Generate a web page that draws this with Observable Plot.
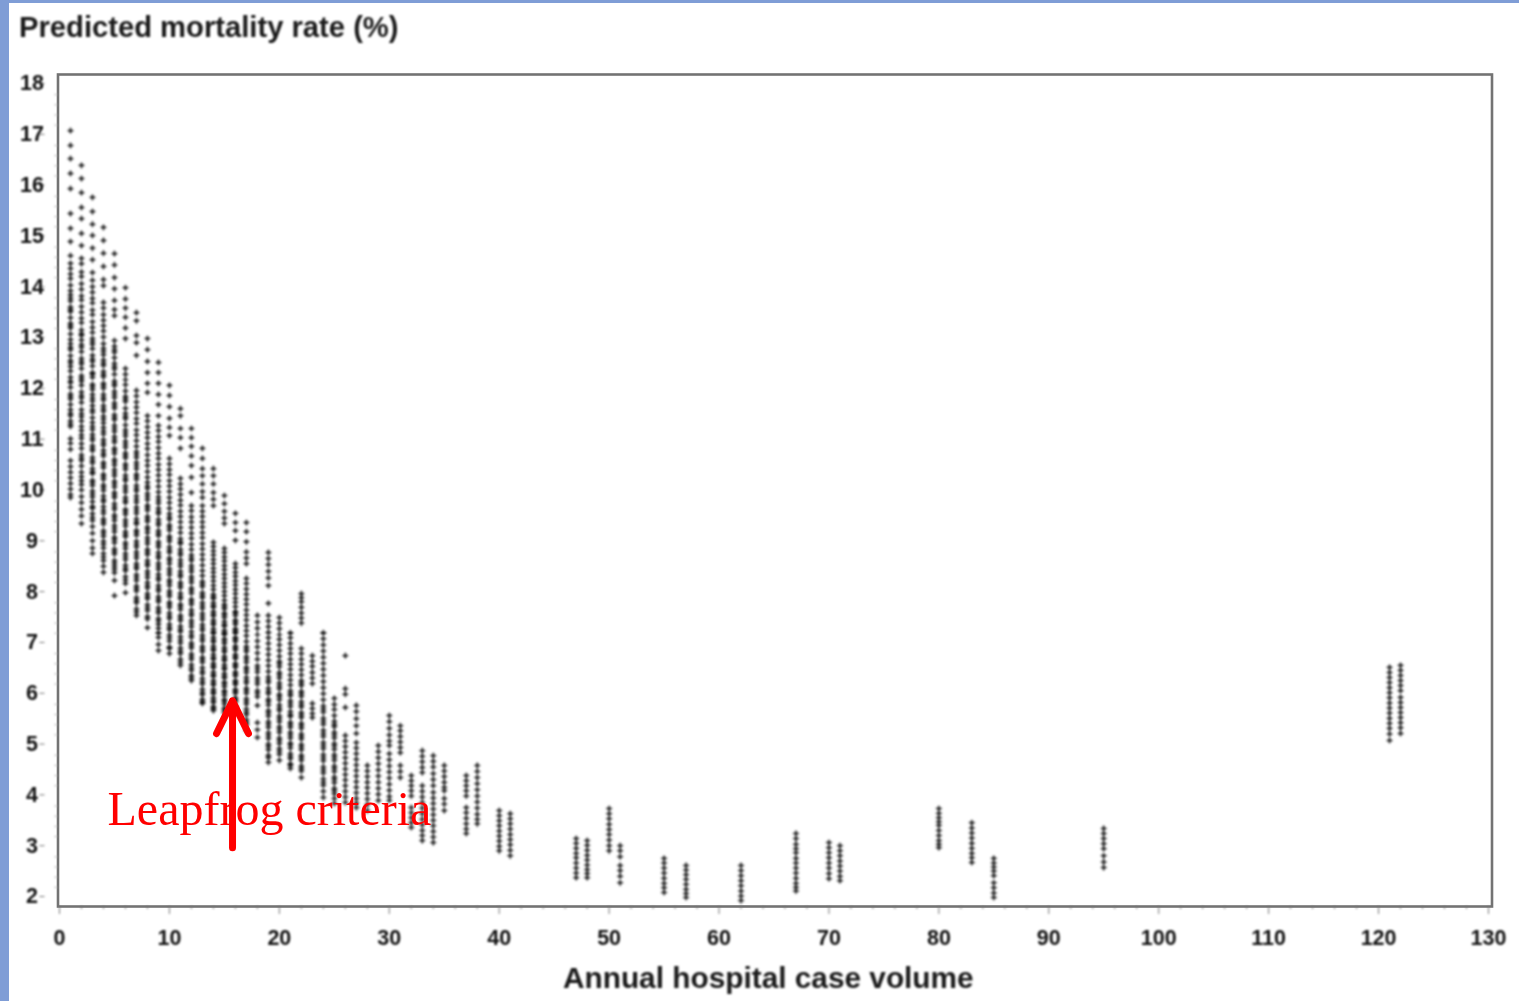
<!DOCTYPE html>
<html><head><meta charset="utf-8">
<script src="https://cdn.jsdelivr.net/npm/d3@7"></script>
<script src="https://cdn.jsdelivr.net/npm/@observablehq/plot@0.6"></script>
<style>
html,body{margin:0;padding:0;background:#fff;width:1519px;height:1001px;overflow:hidden}
#wrap{position:relative;width:1519px;height:1001px}
#wrap svg{position:absolute;left:0;top:0;background:transparent}
.band{position:absolute;background:#7f9dd6}
.lab{position:absolute;font:bold 29.2px "Liberation Sans",Arial,sans-serif;color:#1a1a1a;filter:blur(.8px);white-space:nowrap;line-height:1}
</style></head><body><div id="wrap">
<div class="band" style="left:0;top:0;width:1519px;height:3px"></div>
<div class="band" style="left:0;top:0;width:9px;height:1001px"></div>
<div class="lab" style="left:19px;top:13px" id="ttl"></div>
<div class="lab" style="left:563px;top:963px;font-size:29.8px" id="xlab"></div>
</div>
<script>
const titleText="Predicted mortality rate (%)";
const xLabelText="Annual hospital case volume";
const noteText="Leapfrog criteria";
const xMajor=[0,10,20,30,40,50,60,70,80,90,100,110,120,130];
const yMajor=[2,3,4,5,6,7,8,9,10,11,12,13,14,15,16,17,18];
const volumes=[1,2,3,4,5,6,7,8,9,10,11,12,13,14,15,16,17,18,19,20,21,22,23,24,25,26,27,28,29,30,31,32,33,34,35,37,38,40,41,47,48,50,51,55,57,62,67,70,71,80,83,85,95,121,122];
const v1=[17.09,16.8,16.54,16.25,15.95,15.46,15.17,14.91,14.63,14.48,14.38,14.27,14.18,14.05,13.94,13.86,13.74,13.62,13.53,13.41,13.3,13.21,13.09,12.98,12.9,12.78,12.66,12.57,12.45,12.36,12.24,12.13,12.04,11.91,11.81,11.7,11.6,11.48,11.38,11.27,11.03,10.94,10.82,10.6,10.48,10.37,10.26,10.15,10.04,9.93,9.87];
const v2=[16.41,16.15,15.87,15.58,15.36,15.07,14.83,14.58,14.47,14.31,14.22,14.08,13.97,13.84,13.76,13.63,13.52,13.4,13.31,13.17,13.06,12.97,12.83,12.74,12.61,12.5,12.41,12.27,12.16,12.08,11.95,11.83,11.74,11.6,11.52,11.38,11.27,11.19,11.04,10.93,10.84,10.71,10.6,10.49,10.37,10.28,10.13,10.02,9.89,9.77,9.64,9.51,9.36];
const v3=[15.78,15.5,15.25,15.03,14.78,14.55,14.3,14.15,14.02,13.91,13.79,13.7,13.56,13.47,13.33,13.22,13.12,13.0,12.89,12.8,12.67,12.55,12.46,12.33,12.24,12.1,12.0,11.9,11.77,11.68,11.55,11.44,11.35,11.21,11.11,11.0,10.89,10.79,10.66,10.55,10.44,10.34,10.21,10.11,10.0,9.88,9.79,9.66,9.55,9.42,9.3,9.17,9.02,8.88,8.77];
const v4=[15.19,14.93,14.68,14.42,14.16,14.04,13.71,13.6,13.47,13.36,13.25,13.15,13.03,12.9,12.81,12.68,12.58,12.47,12.35,12.25,12.12,12.02,11.9,11.79,11.68,11.57,11.47,11.34,11.25,11.12,11.01,10.9,10.8,10.69,10.56,10.46,10.33,10.23,10.12,10.01,9.9,9.79,9.69,9.56,9.45,9.35,9.22,9.11,9.01,8.88,8.77,8.63,8.52,8.4];
const v5=[14.67,14.45,14.2,13.98,13.75,13.57,13.45,12.96,12.85,12.73,12.62,12.51,12.4,12.3,12.17,12.07,11.96,11.84,11.73,11.63,11.5,11.4,11.29,11.17,11.07,10.96,10.84,10.74,10.62,10.51,10.42,10.3,10.19,10.08,9.97,9.87,9.75,9.64,9.53,9.42,9.32,9.2,9.09,8.98,8.86,8.76,8.63,8.52,8.39,8.24,7.94];
const v6=[14.0,13.78,13.6,13.42,13.21,13.0,12.41,12.3,12.19,12.09,11.97,11.86,11.76,11.63,11.53,11.42,11.3,11.2,11.08,10.98,10.86,10.75,10.65,10.53,10.43,10.31,10.2,10.1,9.98,9.87,9.77,9.64,9.54,9.43,9.31,9.2,9.1,8.98,8.87,8.77,8.65,8.54,8.43,8.31,8.18,8.0];
const v7=[13.51,13.35,13.06,12.92,12.67,11.98,11.87,11.75,11.65,11.54,11.42,11.33,11.2,11.1,10.99,10.88,10.77,10.66,10.56,10.44,10.33,10.23,10.11,10.0,9.9,9.78,9.68,9.56,9.45,9.35,9.23,9.13,9.01,8.9,8.8,8.68,8.57,8.47,8.35,8.24,8.13,8.03,7.9,7.8,7.68,7.55];
const v8=[13.0,12.78,12.55,12.33,12.12,11.94,11.48,11.38,11.26,11.15,11.05,10.93,10.83,10.71,10.6,10.5,10.38,10.27,10.17,10.05,9.95,9.83,9.72,9.62,9.5,9.4,9.29,9.18,9.08,8.96,8.85,8.75,8.63,8.53,8.42,8.3,8.2,8.09,7.98,7.88,7.76,7.65,7.53,7.31];
const v9=[12.53,12.33,12.12,11.9,11.7,11.48,11.29,11.19,11.07,10.97,10.85,10.74,10.64,10.52,10.42,10.31,10.2,10.09,9.98,9.88,9.76,9.66,9.55,9.44,9.33,9.22,9.12,9.0,8.9,8.79,8.68,8.58,8.46,8.36,8.25,8.14,8.03,7.92,7.82,7.7,7.6,7.49,7.38,7.21,7.12,6.98,6.86];
const v10=[12.08,11.88,11.66,11.43,11.25,11.09,10.64,10.53,10.42,10.32,10.2,10.1,9.99,9.87,9.77,9.66,9.55,9.44,9.33,9.23,9.11,9.01,8.9,8.79,8.68,8.57,8.47,8.35,8.25,8.14,8.03,7.93,7.81,7.71,7.6,7.49,7.38,7.27,7.17,7.05,6.93,6.8];
const v11=[11.62,11.48,11.23,11.05,10.84,10.25,10.14,10.04,9.93,9.82,9.72,9.6,9.5,9.39,9.28,9.18,9.06,8.96,8.85,8.74,8.64,8.52,8.42,8.31,8.2,8.1,7.99,7.88,7.77,7.67,7.55,7.45,7.34,7.23,7.13,7.01,6.91,6.8,6.69,6.57];
const v12=[11.23,11.05,10.88,10.69,10.5,10.27,9.97,9.71,9.61,9.49,9.39,9.28,9.17,9.07,8.95,8.85,8.74,8.63,8.53,8.41,8.31,8.2,8.09,7.99,7.87,7.77,7.66,7.55,7.45,7.33,7.23,7.12,7.01,6.91,6.79,6.69,6.58,6.47,6.37,6.27];
const v13=[10.84,10.64,10.44,10.3,10.14,9.99,9.87,9.71,9.6,9.5,9.39,9.29,9.18,9.08,8.96,8.86,8.75,8.65,8.54,8.43,8.33,8.22,8.12,8,7.9,7.8,7.69,7.59,7.47,7.37,7.26,7.16,7.05,6.94,6.84,6.73,6.63,6.52,6.41,6.31,6.2,6.1,5.99,5.9,5.82];
const v14=[10.44,10.3,10.14,9.97,9.84,9.71,8.99,8.91,8.82,8.74,8.65,8.57,8.48,8.4,8.31,8.23,8.14,8.06,7.97,7.88,7.8,7.71,7.63,7.54,7.46,7.37,7.29,7.2,7.12,7.03,6.95,6.86,6.78,6.69,6.61,6.52,6.44,6.35,6.27,6.18,6.1,6.01,5.93,5.84,5.76,5.68];
const v15=[9.91,9.75,9.6,9.47,9.36,8.87,8.79,8.7,8.62,8.53,8.45,8.36,8.28,8.19,8.11,8.02,7.94,7.85,7.77,7.68,7.6,7.51,7.43,7.34,7.26,7.17,7.09,7,6.92,6.83,6.75,6.66,6.58,6.49,6.41,6.32,6.24,6.15,6.07,5.98,5.9,5.81,5.73,5.64];
const v16=[9.56,9.38,9.22,9.03,8.57,8.49,8.4,8.32,8.23,8.15,8.06,7.98,7.89,7.81,7.72,7.63,7.55,7.46,7.38,7.29,7.21,7.12,7.04,6.95,6.87,6.78,6.7,6.61,6.53,6.44,6.36,6.27,6.19,6.1,6.02,5.93,5.85,5.76,5.64];
const v17=[9.38,9.2,9.0,8.8,8.68,8.57,8.28,8.18,8.07,7.97,7.87,7.77,7.66,7.56,7.46,7.35,7.25,7.15,7.04,6.94,6.84,6.74,6.63,6.53,6.43,6.33,6.22,6.12,6.02,5.91,5.81,5.71,5.6,5.5,5.4,5.29];
const v18=[7.55,7.42,7.3,7.18,7.05,6.93,6.81,6.69,6.56,6.44,6.32,6.2,6.07,5.95,5.78,5.44,5.3,5.15];
const v19=[8.79,8.67,8.55,8.42,8.29,8.14,7.79,7.55,7.44,7.33,7.22,7.11,7,6.89,6.78,6.67,6.56,6.45,6.34,6.23,6.12,6.01,5.9,5.79,5.68,5.57,5.46,5.35,5.24,5.13,5.02,4.91,4.8,4.66];
const v20=[7.51,7.4,7.29,7.18,7.08,6.97,6.86,6.75,6.65,6.54,6.43,6.32,6.22,6.11,6,5.89,5.79,5.68,5.57,5.46,5.36,5.25,5.14,5.03,4.93,4.82,4.7];
const v21=[7.21,7.11,7,6.9,6.8,6.69,6.59,6.49,6.38,6.28,6.18,6.07,5.97,5.87,5.76,5.66,5.56,5.45,5.35,5.25,5.14,5.04,4.94,4.83,4.73,4.63,4.54];
const v22=[7.98,7.9,7.82,7.71,7.6,7.5,7.4,6.9,6.8,6.69,6.59,6.48,6.38,6.27,6.17,6.06,5.96,5.85,5.75,5.64,5.54,5.43,5.33,5.22,5.12,5.01,4.91,4.8,4.7,4.59,4.49,4.36];
const v23=[6.76,6.65,6.55,6.43,6.32,6.21,5.82,5.72,5.62,5.54];
const v24=[7.21,7.09,6.97,6.85,6.73,6.61,6.49,6.37,6.25,6.13,6.01,5.89,5.77,5.65,5.53,5.41,5.29,5.17,5.05,4.93,4.81,4.69,4.57,4.45,4.33,4.21,4.09,3.97];
const v25=[5.92,5.8,5.7,5.58,5.47,5.36,5.25,5.14,5.03,4.92,4.81,4.7,4.59,4.48,4.37,4.26,4.15,4.04,3.95,3.85];
const v26=[6.76,6.11,6,5.74,5.19,5.08,4.97,4.86,4.75,4.64,4.53,4.42,4.31,4.2,4.09,3.98,3.87];
const v27=[5.78,5.66,5.52,5.38,5.23,5.05,4.94,4.83,4.72,4.61,4.5,4.39,4.28,4.17,4.06,3.95,3.86,3.77];
const v28=[4.6,4.49,4.38,4.27,4.16,4.05,3.94,3.83,3.71];
const v29=[4.99,4.87,4.75,4.63,4.51,4.39,4.27,4.15,4.03,3.91];
const v30=[5.58,5.46,5.33,5.2,5.08,4.99,4.83,4.71,4.59,4.47,4.35,4.23,4.11,3.99,3.91];
const v31=[5.38,5.28,5.17,5.06,4.95,4.85,4.6,4.48,4.36];
const v32=[4.4,4.3,4.2,4.1,4,3.77,3.67,3.57,3.47,3.38];
const v33=[4.89,4.78,4.67,4.56,4.46,4.2,4.09,3.98,3.87,3.76,3.65,3.54,3.43,3.32,3.22,3.12];
const v34=[4.79,4.68,4.57,4.44,4.32,4.2,4.07,3.96,3.85,3.74,3.63,3.52,3.41,3.3,3.19,3.08];
const v35=[4.6,4.49,4.38,4.27,4.17,4.1,3.95,3.84,3.71];
const v37=[4.4,4.3,4.2,4.1,4,3.77,3.67,3.56,3.45,3.35,3.26];
const v38=[4.6,4.48,4.36,4.24,4.12,4,3.88,3.76,3.64,3.54,3.45];
const v40=[3.71,3.61,3.51,3.41,3.31,3.21,3.11,3.01,2.92];
const v41=[3.65,3.55,3.45,3.35,3.24,3.14,3.04,2.93,2.82];
const v47=[3.16,3.07,2.97,2.87,2.78,2.68,2.58,2.48,2.39];
const v48=[3.12,3.03,2.93,2.83,2.74,2.64,2.55,2.47,2.39];
const v50=[3.75,3.65,3.55,3.44,3.34,3.24,3.13,3.02,2.92];
const v51=[3.02,2.92,2.8,2.63,2.53,2.42,2.29];
const v55=[2.77,2.68,2.58,2.48,2.38,2.28,2.19,2.1];
const v57=[2.63,2.54,2.45,2.36,2.26,2.16,2.08,2.0];
const v62=[2.63,2.53,2.43,2.33,2.23,2.13,2.03,1.94];
const v67=[3.26,3.16,3.05,2.96,2.88,2.77,2.68,2.58,2.48,2.38,2.28,2.2,2.13];
const v70=[3.08,2.98,2.88,2.78,2.68,2.58,2.47,2.37];
const v71=[3.02,2.92,2.82,2.72,2.62,2.52,2.42,2.33];
const v80=[3.75,3.66,3.57,3.49,3.42,3.32,3.22,3.12,3.05,2.98];
const v83=[3.47,3.37,3.27,3.17,3.07,2.97,2.87,2.78,2.69];
const v85=[2.77,2.68,2.6,2.52,2.43,2.29,2.19,2.09,2];
const v95=[3.36,3.26,3.16,3.06,2.96,2.82,2.7,2.59];
const v121=[6.53,6.43,6.33,6.23,6.13,6.03,5.93,5.83,5.73,5.63,5.53,5.43,5.33,5.22,5.09];
const v122=[6.57,6.47,6.37,6.27,6.17,6.07,5.94,5.84,5.74,5.64,5.54,5.44,5.34,5.23];
const rates=[v1,v2,v3,v4,v5,v6,v7,v8,v9,v10,v11,v12,v13,v14,v15,v16,v17,v18,v19,v20,v21,v22,v23,v24,v25,v26,v27,v28,v29,v30,v31,v32,v33,v34,v35,v37,v38,v40,v41,v47,v48,v50,v51,v55,v57,v62,v67,v70,v71,v80,v83,v85,v95,v121,v122];
// further hospitals in the darkest part of the cloud, where marks overlap
const denseVolumes=[1,2,3,4,5,6,7,8,9,10,11,12,13,14,15,16,17,18,19,20,21,22,24,25];
const e1=[13.8,13.57,13.25,12.83,12.52,12.18,11.86,11.53,11.32];
const e2=[13.1,12.88,12.55,12.22,11.88,11.46,11.1,10.65,10.2];
const e3=[12.94,12.6,12.3,12.05,11.83,11.6,11.27,11.05,10.84,10.6,10.38,10.16,9.94,9.7,9.48];
const e4=[12.75,12.52,12.3,12.07,11.84,11.62,11.41,11.18,10.95,10.74,10.51,10.28,10.07,9.84,9.62,9.4,9.17,8.95,8.7];
const e5=[12.78,12.45,12.12,11.9,11.68,11.45,11.23,11.01,10.79,10.57,10.36,10.14,9.92,9.69,9.48,9.26,9.04,8.81,8.58,8.46];
const e6=[11.81,11.47,11.14,10.92,10.7,10.48,10.25,10.04,9.82,9.59,9.37,9.15,8.93,8.71,8.48,8.25];
const e7=[10.72,10.5,10.28,10.05,9.84,9.62,9.39,9.18,8.95,8.74,8.52,8.3,8.08,7.85,7.62];
const e8=[10.1,9.89,9.67,9.45,9.24,9.02,8.8,8.58,8.36,8.14,7.93,7.7,7.48];
const e9=[9.82,9.6,9.38,9.17,8.95,8.73,8.52,8.3,8.08,7.87,7.65,7.44,7.3];
const e10=[9.49,9.28,9.06,8.84,8.63,8.41,8.2,7.98,7.76,7.54,7.32,7.11,6.9];
const e11=[9,8.79,8.58,8.36,8.15,7.93,7.72,7.5,7.28,7.07,6.85,6.63];
const e12=[8.68,8.47,8.26,8.04,7.82,7.6,7.39,7.17,6.96,6.74,6.52,6.32];
const e13=[8.17,7.95,7.74,7.53,7.31,7.1,6.89,6.68,6.46,6.25,6.04,5.85];
const e14=[7.92,7.75,7.58,7.41,7.24,7.07,6.9,6.73,6.56,6.39,6.22,6.05,5.88,5.72];
const e15=[7.72,7.56,7.38,7.21,7.05,6.87,6.7,6.53,6.36,6.2,6.03,5.86,5.69];
const e16=[7.6,7.42,7.25,7.08,6.91,6.74,6.57,6.4,6.23,6.06,5.89,5.72];
const e17=[6.89,6.69,6.48,6.27,6.07,5.86,5.65,5.45];
const e18=[6.5,6.26,6.02];
const e19=[6.28,6.06,5.85,5.63,5.41,5.19,4.97,4.75];
const e20=[6.6,6.38,6.16,5.95,5.73,5.52,5.31,5.09,4.88];
const e21=[6.02,5.82,5.6,5.4,5.2,5,4.78,4.6];
const e22=[6.22,6.01,5.8,5.59,5.38,5.17,4.96,4.75,4.54];
const e24=[5.71,5.47,5.23,4.99,4.75,4.51,4.27];
const e25=[5.41,5.2,4.98,4.76,4.54,4.32,4.1];
const denseRates=[e1,e2,e3,e4,e5,e6,e7,e8,e9,e10,e11,e12,e13,e14,e15,e16,e17,e18,e19,e20,e21,e22,e24,e25];
const points=volumes.flatMap((x,i)=>rates[i].map(y=>({x,y}))).concat(denseVolumes.flatMap((x,i)=>denseRates[i].map(y=>({x,y}))));
const xMinor=d3.range(0,131,2).filter(d=>d%10);
const yMinor=d3.range(2,18.01,0.2).filter(d=>Math.abs(d-Math.round(d))>0.01);
const arrowData=[{x:15.74,y1:2.98,y2:5.87}];
const noteData=[{x:4.37,y:3.72,t:noteText}];
const soft="blur(0.8px)";
const tickCol="#777";
const sans="Liberation Sans";
const chart=Plot.plot({
  width:1519,height:1001,
  marginLeft:57.5,marginRight:27.5,marginTop:74,marginBottom:95,
  style:{background:"transparent",overflow:"visible"},
  x:{domain:[0,130],range:[59,1488]},
  y:{domain:[2,18],range:[897,84]},
  marks:[
    Plot.frame({stroke:"#737373",strokeWidth:2.6}),
    Plot.axisX(xMajor,{tickSize:8,tickPadding:15,fontSize:21.5,fontWeight:"bold",fontFamily:sans,stroke:tickCol,fill:"#111",tickFormat:d=>String(d),label:null,imageFilter:soft}),
    Plot.axisX(xMinor,{tickSize:3,fill:"none",label:null,stroke:tickCol,imageFilter:soft}),
    Plot.axisY(yMajor,{tickSize:5,tickPadding:8,fontSize:21.5,fontWeight:"bold",fontFamily:sans,stroke:tickCol,fill:"#111",tickFormat:d=>String(d),label:null,imageFilter:soft,textAnchor:"middle",dx:-13,dy:-1}),
    Plot.axisY(yMinor,{tickSize:3,fill:"none",label:null,stroke:"#aaa",imageFilter:soft}),
    Plot.dot(points,{x:"x",y:"y",symbol:"plus",r:2,stroke:"#000",strokeWidth:1.5,imageFilter:soft}),
    Plot.text(noteData,{x:"x",y:"y",text:"t",textAnchor:"start",fontFamily:"Liberation Serif",fontSize:48,fill:"#ff0000"}),
    Plot.arrow(arrowData,{x:"x",y1:"y1",y2:"y2",stroke:"#ff0000",strokeWidth:7,headLength:7.8,headAngle:52})
  ]
});
document.getElementById("wrap").appendChild(chart);
document.getElementById("ttl").textContent=titleText;
document.getElementById("xlab").textContent=xLabelText;
</script></body></html>
